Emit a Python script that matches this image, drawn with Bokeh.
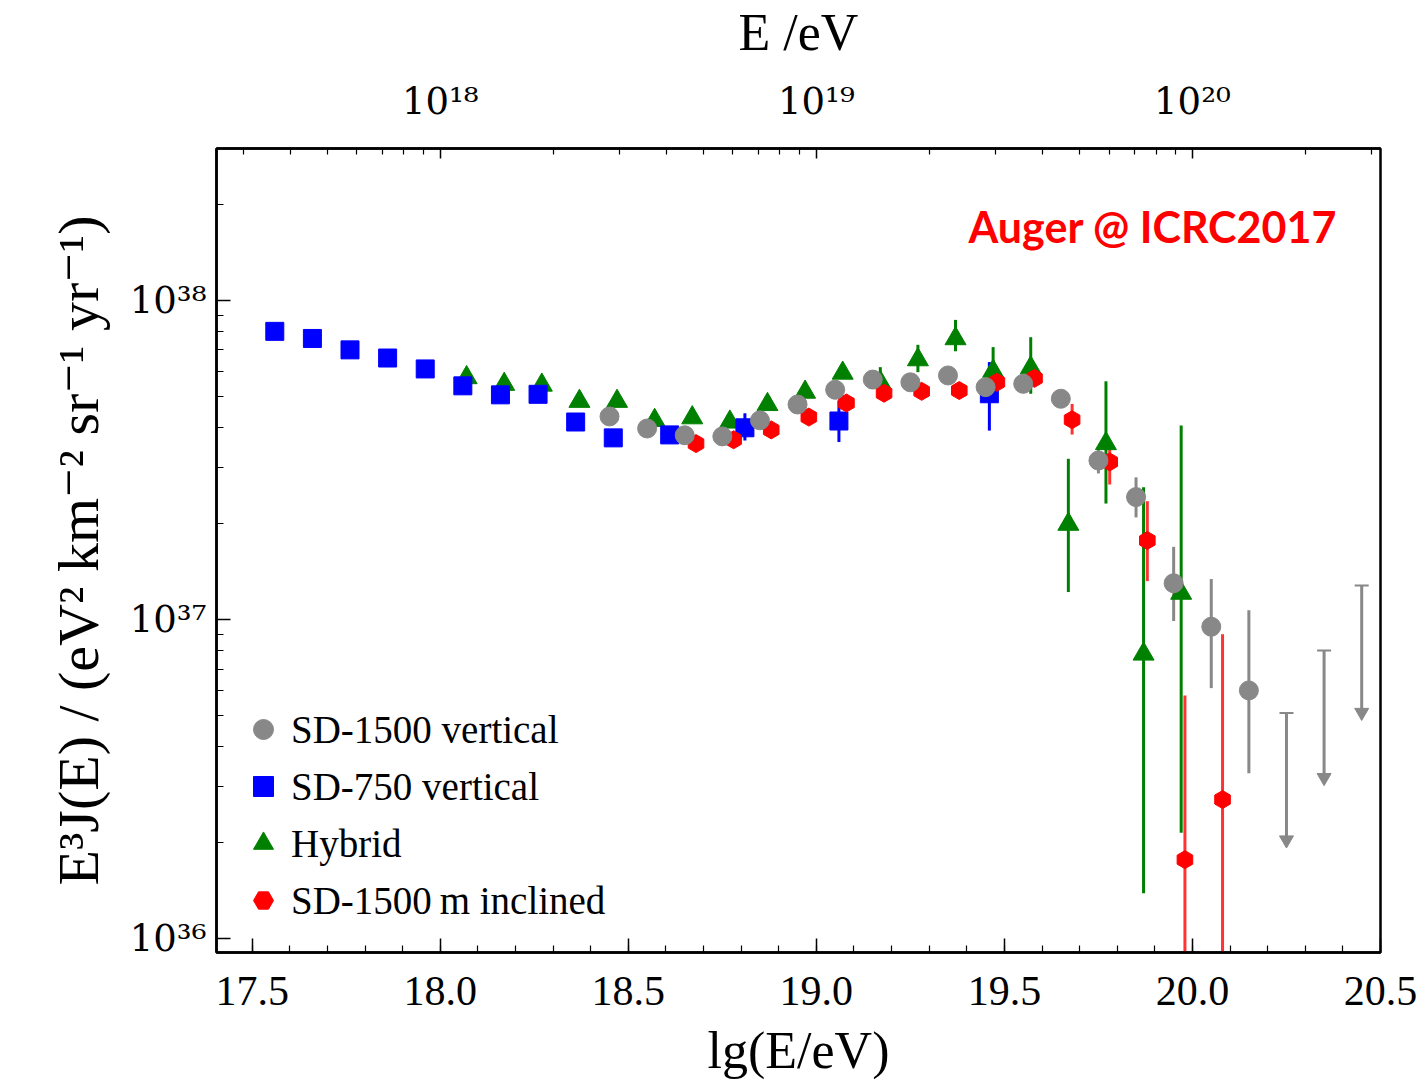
import numpy as np
from bokeh.plotting import figure
from bokeh.models import (FixedTicker, LinearAxis, CustomJSTickFormatter, Label,
                          Legend, LegendItem, Range1d)
from bokeh.embed import file_html
from bokeh.resources import INLINE

# ---------------- data ----------------
# SD-1500 vertical (grey circles)
sd1500_lgE = [18.45, 18.55, 18.65, 18.75, 18.85, 18.95, 19.05, 19.15, 19.25, 19.35,
              19.45, 19.55, 19.65, 19.75, 19.85, 19.95, 20.05, 20.15]
sd1500_val = [4.33e37, 3.97e37, 3.78e37, 3.75e37, 4.21e37, 4.72e37, 5.25e37, 5.65e37, 5.54e37, 5.82e37,
              5.35e37, 5.48e37, 4.92e37, 3.15e37, 2.42e37, 1.30e37, 9.5e36, 6.0e36]
sd1500_lo = [4.25e37, 3.90e37, 3.71e37, 3.68e37, 4.13e37, 4.63e37, 5.15e37, 5.53e37, 5.41e37, 5.67e37,
             5.18e37, 5.28e37, 4.70e37, 2.87e37, 2.09e37, 9.9e36, 6.1e36, 3.3e36]
sd1500_hi = [4.41e37, 4.04e37, 3.85e37, 3.82e37, 4.29e37, 4.81e37, 5.35e37, 5.77e37, 5.67e37, 5.97e37,
             5.52e37, 5.68e37, 5.14e37, 3.45e37, 2.79e37, 1.69e37, 1.34e37, 1.07e37]
# SD-1500 vertical upper limits
ul_lgE = [20.25, 20.35, 20.45]
ul_val = [5.1e36, 8.0e36, 1.28e37]

# SD-750 vertical (blue squares)
sd750_lgE = [17.56, 17.66, 17.76, 17.86, 17.96, 18.06, 18.16, 18.26, 18.36, 18.46, 18.61, 18.81, 19.06, 19.46]
sd750_val = [8.0e37, 7.6e37, 7.0e37, 6.6e37, 6.1e37, 5.4e37, 5.06e37, 5.08e37, 4.16e37, 3.71e37,
             3.79e37, 3.99e37, 4.19e37, 5.1e37]
sd750_lo = [7.9e37, 7.5e37, 6.9e37, 6.5e37, 6.0e37, 5.32e37, 4.98e37, 5.0e37, 4.09e37, 3.65e37,
            3.72e37, 3.64e37, 3.60e37, 3.91e37]
sd750_hi = [8.1e37, 7.7e37, 7.1e37, 6.7e37, 6.2e37, 5.48e37, 5.14e37, 5.16e37, 4.23e37, 3.77e37,
            3.86e37, 4.43e37, 4.86e37, 6.41e37]

# Hybrid (green triangles)
hyb_lgE = [18.07, 18.17, 18.27, 18.37, 18.47, 18.57, 18.67, 18.77, 18.87, 18.97,
           19.07, 19.17, 19.27, 19.37, 19.47, 19.57, 19.67, 19.77, 19.87, 19.97]
hyb_val = [5.73e37, 5.46e37, 5.43e37, 4.83e37, 4.83e37, 4.21e37, 4.29e37, 4.16e37, 4.72e37, 5.16e37,
           5.92e37, 5.54e37, 6.52e37, 7.59e37, 6.0e37, 6.15e37, 1.99e37, 3.56e37, 7.8e36, 1.21e37]
hyb_lo = [5.6e37, 5.33e37, 5.3e37, 4.7e37, 4.7e37, 4.1e37, 4.17e37, 4.04e37, 4.58e37, 5.0e37,
          5.7e37, 5.0e37, 5.96e37, 6.93e37, 5.22e37, 5.1e37, 1.22e37, 2.31e37, 1.39e36, 2.15e36]
hyb_hi = [5.86e37, 5.59e37, 5.56e37, 4.96e37, 4.96e37, 4.33e37, 4.41e37, 4.28e37, 4.86e37, 5.32e37,
          6.14e37, 6.18e37, 7.26e37, 8.69e37, 7.14e37, 7.67e37, 3.19e37, 5.58e37, 2.6e37, 4.06e37]

# SD-1500 m inclined (red hexagons)
inc_lgE = [18.68, 18.78, 18.88, 18.98, 19.08, 19.18, 19.28, 19.38, 19.48, 19.58,
           19.68, 19.78, 19.88, 19.98, 20.08]
inc_val = [3.56e37, 3.66e37, 3.93e37, 4.31e37, 4.77e37, 5.12e37, 5.19e37, 5.22e37, 5.54e37, 5.70e37,
           4.23e37, 3.12e37, 1.77e37, 1.77e36, 2.73e36]
inc_lo = [3.5e37, 3.6e37, 3.86e37, 4.24e37, 4.69e37, 5.03e37, 5.1e37, 5.12e37, 5.4e37, 5.52e37,
          3.8e37, 2.65e37, 1.32e37, 1e35, 1e35]
inc_hi = [3.62e37, 3.72e37, 4.0e37, 4.38e37, 4.85e37, 5.21e37, 5.28e37, 5.32e37, 5.68e37, 5.88e37,
          4.74e37, 3.56e37, 2.35e37, 5.78e36, 9.0e36]

x_ticks = [17.5, 18.0, 18.5, 19.0, 19.5, 20.0, 20.5]
y_ticks = [1e36, 1e37, 1e38]
top_ticks = [18, 19, 20]

# ---------------- figure ----------------
SERIF = "'Liberation Serif', 'DejaVu Serif', serif"
SUPFONT = "'DejaVu Serif', serif"
p = figure(width=1424, height=1086, output_backend="svg", toolbar_location=None,
           x_range=Range1d(17.405, 20.5), y_range=Range1d(10 ** 35.957, 10 ** 38.476),
           y_axis_type="log",
           min_border_left=216, min_border_right=44, min_border_top=148, min_border_bottom=134)
p.grid.visible = False
p.outline_line_color = "black"
p.outline_line_width = 2.5
p.background_fill_color = "white"
p.border_fill_color = "white"

sup_js = """
const sup = {"0":"\u2070","1":"\u00b9","2":"\u00b2","3":"\u00b3","4":"\u2074","5":"\u2075",
             "6":"\u2076","7":"\u2077","8":"\u2078","9":"\u2079"};
"""

# bottom axis
xa = p.xaxis[0]
xa.ticker = FixedTicker(ticks=x_ticks, minor_ticks=list(np.round(np.arange(17.5, 20.51, 0.1), 2)))
xa.formatter = CustomJSTickFormatter(code="return tick.toFixed(1);")
xa.axis_label = "lg(E/eV)"
# left axis
ya = p.yaxis[0]
ya.ticker = FixedTicker(ticks=y_ticks,
                        minor_ticks=[k * 10.0 ** n for n in (35, 36, 37, 38) for k in range(2, 10)])
ya.formatter = CustomJSTickFormatter(code=sup_js + """
const e = Math.round(Math.log10(tick));
return "10" + String(e).split("").map(c => sup[c]).join("");
""")
ya.axis_label = "E\u00b3J(E) / (eV\u00b2 km\u207b\u00b2 sr\u207b\u00b9 yr\u207b\u00b9)"

# top axis
top = LinearAxis(ticker=FixedTicker(ticks=top_ticks,
                                    minor_ticks=[n + np.log10(k) for n in (17, 18, 19, 20) for k in range(2, 10)]),
                 formatter=CustomJSTickFormatter(code=sup_js + """
const e = Math.round(tick);
return "10" + String(e).split("").map(c => sup[c]).join("");
"""),
                 axis_label="E /eV")
p.add_layout(top, "above")

for ax in (xa, ya, top):
    ax.axis_line_color = "black"
    ax.axis_line_width = 2.5
    ax.major_tick_line_color = "black"
    ax.minor_tick_line_color = "black"
    ax.major_tick_line_width = 1.5
    ax.minor_tick_line_width = 1.2
    ax.major_tick_out = 0
    ax.minor_tick_out = 0
    ax.major_tick_in = 14
    ax.minor_tick_in = 7
    ax.major_label_text_font = SERIF
    ax.major_label_text_font_size = "42px"
    ax.major_label_text_color = "black"
    ax.axis_label_text_font = SERIF
    ax.axis_label_text_font_size = "52px"
    ax.axis_label_text_font_style = "normal"
    ax.axis_label_text_color = "black"

for ax in (ya, top):
    ax.major_label_text_font = SUPFONT
    ax.major_label_text_font_size = "37px"

ya.axis_label_text_font_size = "58px"
xa.major_label_standoff = 24
xa.axis_label_standoff = 14
ya.major_label_standoff = 10
ya.axis_label_standoff = 16
top.major_label_standoff = 26
top.axis_label_standoff = 16
top.major_tick_in = 10
top.minor_tick_in = 6

# ---------------- error bars ----------------
GREY, BLUE, GREEN, RED = "#888888", "#0000ff", "#008000", "#ff0000"
p.segment(x0=hyb_lgE, y0=hyb_lo, x1=hyb_lgE, y1=hyb_hi, line_color=GREEN, line_width=3)
p.segment(x0=sd750_lgE, y0=sd750_lo, x1=sd750_lgE, y1=sd750_hi, line_color=BLUE, line_width=3)
p.segment(x0=inc_lgE, y0=inc_lo, x1=inc_lgE, y1=inc_hi, line_color=RED, line_width=3, line_alpha=0.8)
p.segment(x0=sd1500_lgE, y0=sd1500_lo, x1=sd1500_lgE, y1=sd1500_hi, line_color=GREY, line_width=3)

# upper limits
ARROW = 0.40
ul_tip = [v * ARROW for v in ul_val]
p.segment(x0=ul_lgE, y0=ul_val, x1=ul_lgE, y1=ul_tip, line_color=GREY, line_width=3)
p.scatter(x=ul_lgE, y=ul_val, marker="dash", size=14, line_color=GREY, line_width=2)
p.scatter(x=ul_lgE, y=ul_tip, marker="inverted_triangle", size=14, fill_color=GREY, line_color=GREY)

# ---------------- markers ----------------
r_hyb = p.scatter(x=hyb_lgE, y=hyb_val, marker="triangle", size=21, fill_color=GREEN, line_color=GREEN)
r_750 = p.scatter(x=sd750_lgE, y=sd750_val, marker="square", size=18, fill_color=BLUE, line_color=BLUE)
r_inc = p.scatter(x=inc_lgE, y=inc_val, marker="hex", size=18, fill_color=RED, line_color=RED, angle=np.pi / 2)
r_1500 = p.scatter(x=sd1500_lgE, y=sd1500_val, marker="circle", size=19, fill_color=GREY, line_color=GREY)

legend = Legend(items=[LegendItem(label="SD-1500 vertical", renderers=[r_1500]),
                       LegendItem(label="SD-750 vertical", renderers=[r_750]),
                       LegendItem(label="Hybrid", renderers=[r_hyb]),
                       LegendItem(label="SD-1500\u2009m inclined", renderers=[r_inc])],
                location=(22, 27), orientation="vertical",
                glyph_width=50, glyph_height=50, label_height=50, spacing=7,
                label_standoff=3, padding=0, margin=0,
                label_text_font=SERIF, label_text_font_size="39px", label_text_color="black",
                border_line_color=None, background_fill_alpha=0)
p.add_layout(legend)

p.add_layout(Label(x=752, y=726, x_units="screen", y_units="screen", text="Auger @ ICRC2017",
                   text_color="#ff0000", text_font="Lato", text_font_style="bold",
                   text_font_size="43px", text_baseline="alphabetic"))

open("out.html", "w").write(file_html(p, INLINE))
